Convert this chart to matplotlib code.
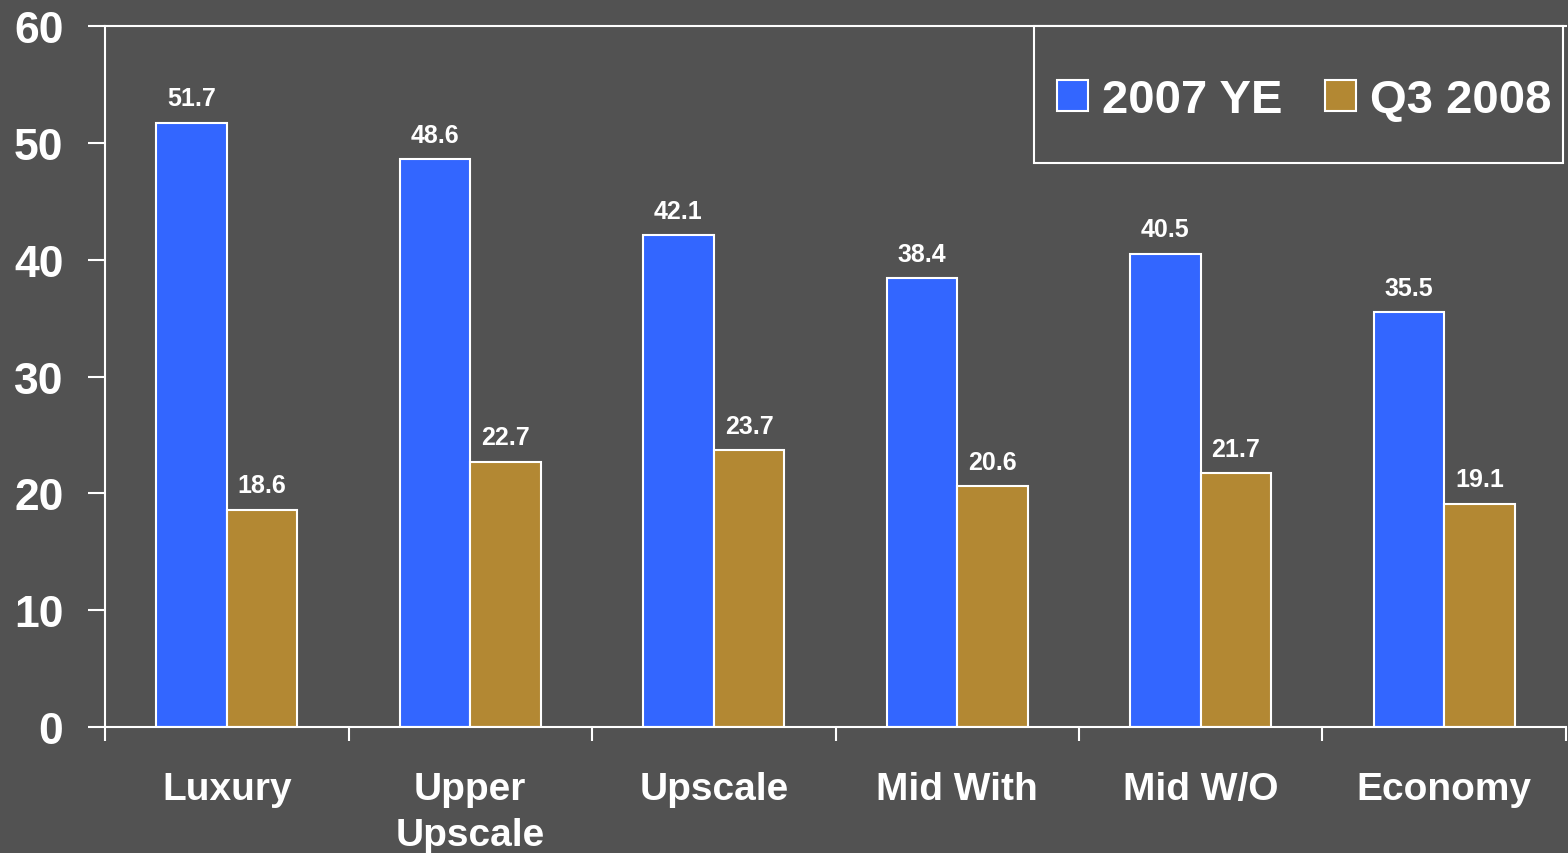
import matplotlib.pyplot as plt
from matplotlib.patches import Rectangle
import numpy as np

# 区分ごとの値
categories = ['Luxury', 'Upper\nUpscale', 'Upscale', 'Mid With', 'Mid W/O', 'Economy']
ye_2007 = [51.7, 48.6, 42.1, 38.4, 40.5, 35.5]
q3_2008 = [18.6, 22.7, 23.7, 20.6, 21.7, 19.1]
series_names = ['2007 YE', 'Q3 2008']
y_ticks = [0, 10, 20, 30, 40, 50, 60]

BG = '#525252'
BLUE = '#3366FF'
GOLD = '#B38833'

plt.rcParams['font.family'] = ['Liberation Sans', 'DejaVu Sans']
plt.rcParams['font.weight'] = 'bold'

fig = plt.figure(figsize=(15.68, 8.54), dpi=100, facecolor=BG)
ax = fig.add_axes([0.0670, 0.1475, 0.9317, 0.8209], facecolor=BG)

x = np.arange(len(categories))
w = 0.29
b1 = ax.bar(x - w / 2, ye_2007, w, color=BLUE, edgecolor='white', linewidth=1.5,
            label=series_names[0])
b2 = ax.bar(x + w / 2, q3_2008, w, color=GOLD, edgecolor='white', linewidth=1.5,
            label=series_names[1])

# 棒の上に数値
for bars in (b1, b2):
    ax.bar_label(bars, labels=[f'{v:.1f}' for v in bars.datavalues],
                 padding=9, color='white', fontsize=18, fontweight='bold')

ax.set_xlim(-0.5, len(categories) - 0.5)
ax.set_ylim(0, 60)
ax.set_yticks(y_ticks)
ax.set_yticklabels([str(t) for t in y_ticks], fontsize=32, fontweight='bold', color='white')

# 区切り位置に目盛り、中央にラベル
ax.set_xticks(np.arange(len(categories) + 1) - 0.5)
ax.set_xticklabels([])
ax.set_xticks(x, minor=True)
ax.set_xticklabels(categories, minor=True, fontsize=28, fontweight='bold',
                   color='white', linespacing=1.35)
ax.tick_params(axis='x', which='minor', length=0, pad=32)
ax.tick_params(axis='x', which='major', direction='out', length=10, width=1.5, color='white')
ax.tick_params(axis='y', direction='out', length=12, width=1.5, color='white', pad=18)

for side in ('left', 'bottom', 'top'):
    ax.spines[side].set_color('white')
    ax.spines[side].set_linewidth(1.5)
ax.spines['right'].set_visible(False)

# 凡例の枠
box_x0, box_y0, box_x1, box_y1 = 0.636, 0.8046, 0.998, 1.0
ax.add_patch(Rectangle((box_x0, box_y0), box_x1 - box_x0, box_y1 - box_y0,
                       transform=ax.transAxes, facecolor=BG, edgecolor='white',
                       linewidth=1.5, zorder=4, clip_on=False))

leg = ax.legend(loc='center', bbox_to_anchor=((box_x0 + box_x1) / 2 + 0.004,
                                              (box_y0 + box_y1) / 2 - 0.008),
                ncol=2, frameon=False, borderpad=0, borderaxespad=0,
                prop={'size': 34, 'weight': 'bold'},
                handlelength=0.65, handleheight=0.65, handletextpad=0.3,
                columnspacing=0.9)
leg.set_zorder(5)
for t in leg.get_texts():
    t.set_color('white')
for h in leg.legend_handles:
    h.set_edgecolor('white')
    h.set_linewidth(1.5)

plt.savefig('out.png', dpi=100, facecolor=BG)
